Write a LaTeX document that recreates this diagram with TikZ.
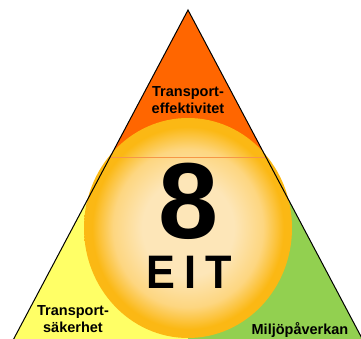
\documentclass[tikz,border=0pt]{standalone}
\usepackage{fontspec}
\setmainfont{Liberation Sans}
\definecolor{topor}{HTML}{FF6600}
\definecolor{leftye}{HTML}{FFFF66}
\definecolor{rightgr}{HTML}{92D050}
\definecolor{sunc}{HTML}{FDE6B8}
\definecolor{sunm}{HTML}{FDD680}
\definecolor{sune}{HTML}{FBB814}
\definecolor{sepline}{HTML}{F79646}
\pgfdeclareradialshading{sunshade}{\pgfpoint{0bp}{0bp}}{color(0bp)=(sunc); color(11bp)=(sunc); color(18bp)=(sunm); color(23bp)=(sune); color(25bp)=(sune); color(50bp)=(sune)}
\tikzset{
  lbl/.style={font=\fontsize{14.5}{17}\selectfont\bfseries, align=center, inner sep=0pt},
  edge/.style={draw=black, line width=1pt}
}
\begin{document}
\begin{tikzpicture}[x=1pt,y=-1pt]
\useasboundingbox (0,0) rectangle (361,339);
\begin{scope}
\clip (0,0) rectangle (361,339);
% regions
\fill[topor] (188,10) -- (110.1,157) -- (265.9,157) -- cycle;
\fill[leftye] (110.1,157) -- (10.5,345) -- (188,345) -- (188,157) -- cycle;
\fill[rightgr] (188,157) -- (188,345) -- (365.5,345) -- (265.9,157) -- cycle;
% sun
\shade[shading=sunshade] (188,228) ellipse [x radius=104, y radius=110];
% separator line
\coordinate (sl) at (110.1,157);
\coordinate (sr) at (265.9,157);
\draw[sepline, line width=0.6pt] (sl) -- (sr);
% triangle edges
\coordinate (apex) at (188,10);
\coordinate (bl) at (10.5,345);
\coordinate (br) at (365.5,345);
\draw[edge] (bl) -- (apex) -- (br);
\end{scope}
% texts
\node[lbl] (te) at (188,100) {Transport-\\effektivitet};
\node[lbl] (ts) at (73,319) {Transport-\\säkerhet};
\node[lbl] (mp) at (300,330) {Miljöpåverkan};
\node[font=\fontsize{108}{108}\selectfont\bfseries, anchor=base, inner sep=0pt] (eight) at (189,238) {8};
\node[font=\fontsize{47}{47}\selectfont\bfseries, anchor=base, inner sep=0pt, xscale=0.92] (eit) at (189,288) {E\hspace{10pt}I\hspace{10pt}T};
\end{tikzpicture}
\end{document}
